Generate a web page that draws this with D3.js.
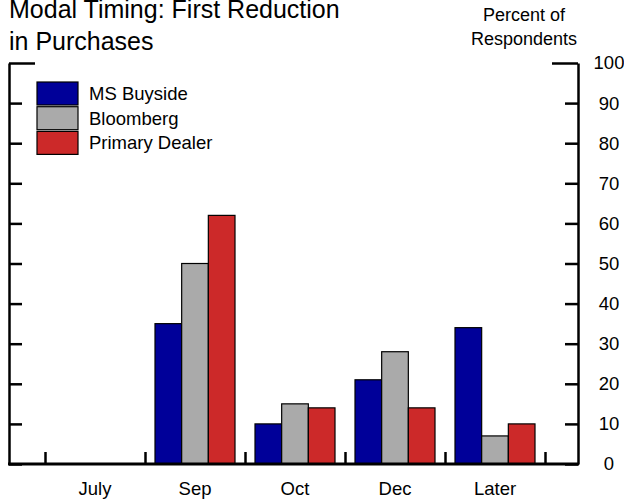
<!DOCTYPE html>
<html>
<head>
<meta charset="utf-8">
<style>
  body { margin: 0; background: #fff; }
  text { font-family: "Liberation Sans", Arial, sans-serif; fill: #000; }
</style>
</head>
<body>
<div id="chart"></div>
<script src="https://d3js.org/d3.v7.min.js"></script>
<script>
// data
var categories = ["July", "Sep", "Oct", "Dec", "Later"];
var seriesNames = ["MS Buyside", "Bloomberg", "Primary Dealer"];
var msBuyside = [0, 35, 10, 21, 34];
var bloomberg = [0, 50, 15, 28, 7];
var primaryDealer = [0, 62, 14, 14, 10];
var yTicks = [0, 10, 20, 30, 40, 50, 60, 70, 80, 90, 100];
var colors = ["#000099", "#aaaaaa", "#cc2929"];

var seriesValues = [msBuyside, bloomberg, primaryDealer];
var rows = categories.map(function(c, i) {
  return { cat: c, vals: seriesNames.map(function(s, j) { return { key: s, value: seriesValues[j][i] }; }) };
});

var W = 624, H = 501;
var plotLeft = 9, plotRight = 578;
var fs = "18.5px";

var svg = d3.select("#chart").append("svg")
    .attr("width", W)
    .attr("height", H);

var x = d3.scaleBand()
    .domain(categories)
    .range([45, 545]);

var x1 = d3.scaleBand()
    .domain(seriesNames)
    .range([10, 90]);

var y = d3.scaleLinear()
    .domain([0, 100])
    .range([464, 63]);

var color = d3.scaleOrdinal().domain(seriesNames).range(colors);

// bars
svg.append("g")
  .selectAll("g")
  .data(rows)
  .enter().append("g")
    .attr("transform", function(d) { return "translate(" + x(d.cat) + ",0)"; })
  .selectAll("rect")
  .data(function(d) { return d.vals.filter(function(v) { return v.value > 0; }); })
  .enter().append("rect")
    .attr("x", function(d) { return x1(d.key); })
    .attr("y", function(d) { return y(d.value); })
    .attr("width", x1.bandwidth())
    .attr("height", function(d) { return y(0) - y(d.value); })
    .attr("fill", function(d) { return color(d.key); })
    .attr("stroke", "#000")
    .attr("stroke-width", 1.2);

// left axis, ticks pointing in
var left = svg.append("g")
    .attr("transform", "translate(" + plotLeft + ",0)")
    .call(d3.axisLeft(y).tickValues(yTicks).tickSize(-13).tickSizeOuter(0).tickFormat(""));
left.select(".domain").attr("stroke-width", 2.5);
left.selectAll(".tick line").attr("stroke-width", 2.5)
    .attr("x2", function(d) { return d === 100 ? 26 : 13; });

// right axis with labels
var right = svg.append("g")
    .attr("transform", "translate(" + plotRight + ",0)")
    .call(d3.axisRight(y).tickValues(yTicks).tickSize(-13).tickSizeOuter(0).tickPadding(31));
right.select(".domain").attr("stroke-width", 2.5);
right.selectAll(".tick line").attr("stroke-width", 2.5)
    .attr("x2", function(d) { return d === 100 ? -26 : -13; });
right.selectAll(".tick text")
    .attr("text-anchor", "middle")
    .style("font-size", fs)
    .style("font-family", "'Liberation Sans', Arial, sans-serif");

// bottom axis: ticks between categories
var xEdges = d3.scaleLinear().domain([0, categories.length]).range(x.range());
var bottom = svg.append("g")
    .attr("transform", "translate(0," + y(0) + ")")
    .call(d3.axisBottom(xEdges).tickValues(d3.range(categories.length + 1)).tickSize(-12).tickSizeOuter(0).tickFormat(""));
bottom.select(".domain").remove();
bottom.selectAll(".tick line").attr("stroke-width", 2.5);

svg.append("line")
    .attr("x1", plotLeft - 1)
    .attr("x2", plotRight + 1)
    .attr("y1", y(0))
    .attr("y2", y(0))
    .attr("stroke", "#000")
    .attr("stroke-width", 3);

// category labels
var cats = svg.append("g")
    .attr("transform", "translate(0," + y(0) + ")")
    .call(d3.axisBottom(x).tickSize(0).tickPadding(18));
cats.select(".domain").remove();
cats.selectAll(".tick text")
    .style("font-size", fs)
    .style("font-family", "'Liberation Sans', Arial, sans-serif");

// title
svg.append("text").attr("x", 9).attr("y", 18).style("font-size", "25px").text("Modal Timing: First Reduction");
svg.append("text").attr("x", 9).attr("y", 50).style("font-size", "25px").text("in Purchases");

svg.append("text").attr("x", 524).attr("y", 21).attr("text-anchor", "middle").style("font-size", "18px").text("Percent of");
svg.append("text").attr("x", 524).attr("y", 45).attr("text-anchor", "middle").style("font-size", "18px").text("Respondents");

// legend
var legend = svg.append("g")
  .selectAll("g")
  .data(seriesNames)
  .enter().append("g")
    .attr("transform", function(d, i) { return "translate(37," + (82 + i * 24.7) + ")"; });

legend.append("rect")
    .attr("width", 41)
    .attr("height", 23)
    .attr("fill", color)
    .attr("stroke", "#000")
    .attr("stroke-width", 1.2);

legend.append("text")
    .attr("x", 52)
    .attr("y", 18)
    .style("font-size", fs)
    .text(function(d) { return d; });
</script>
</body>
</html>
